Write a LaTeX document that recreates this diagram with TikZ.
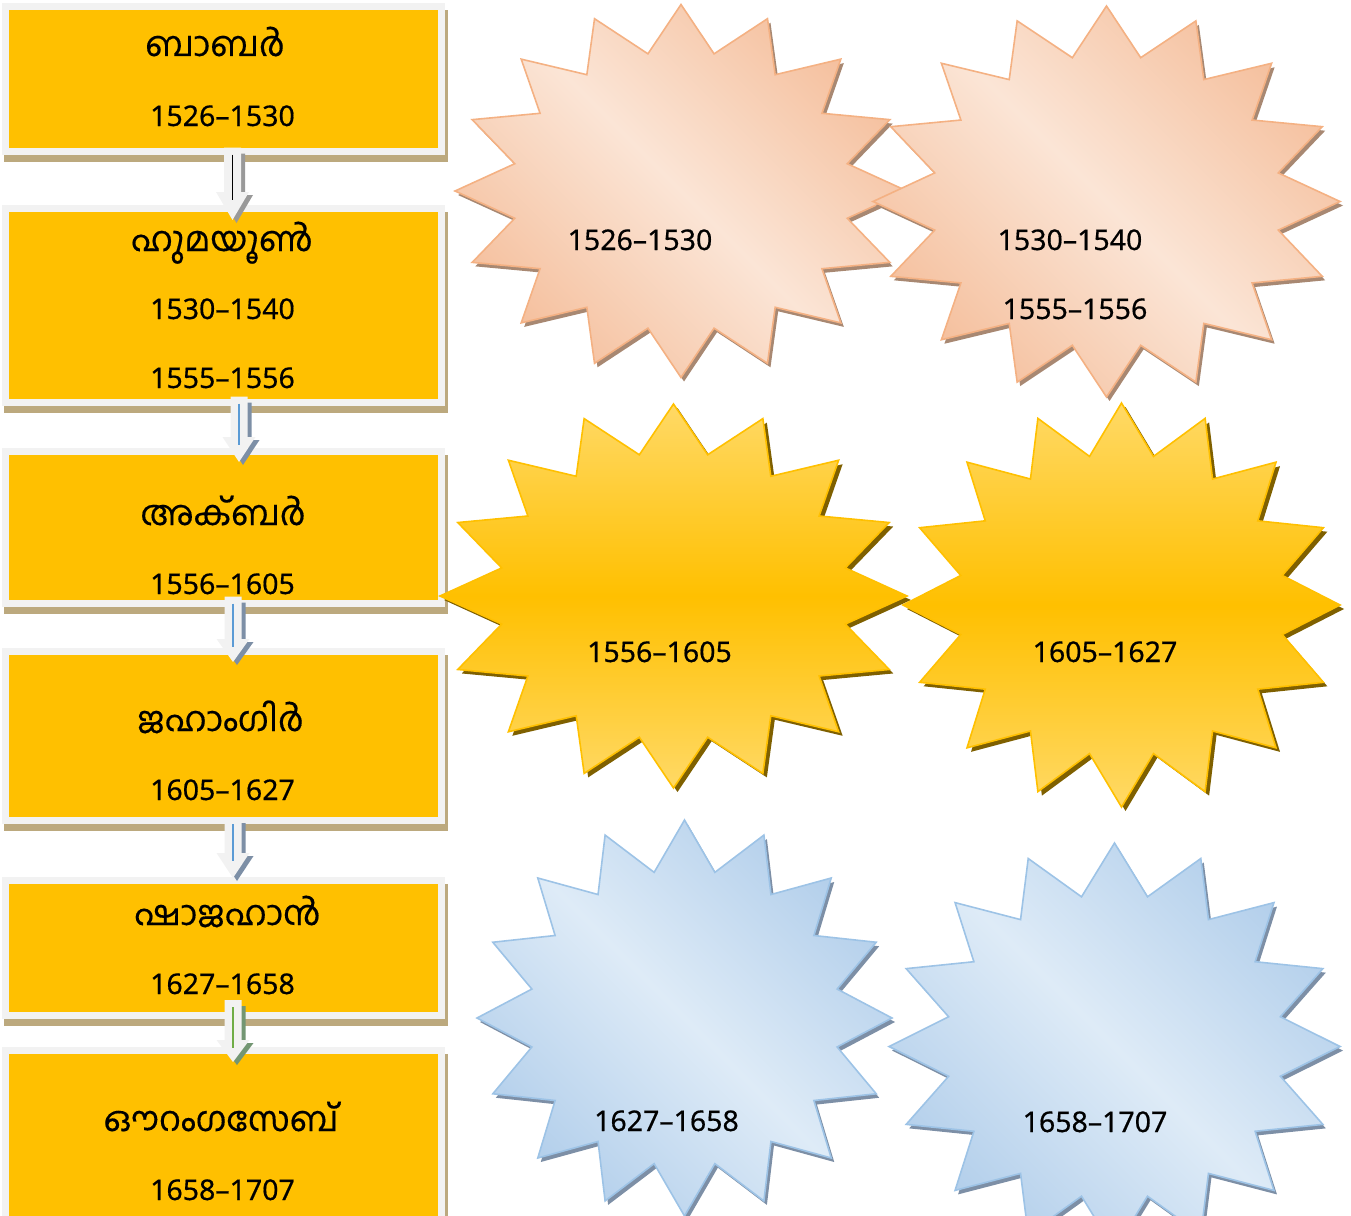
\documentclass[tikz,border=0pt]{standalone}
\usepackage{fontspec}
\newfontfamily\mlfont[Script=Malayalam, FakeBold=0.35]{Hind Kochi}
\newfontfamily\numfont[FakeBold=0.5]{Noto Sans}
\usetikzlibrary{calc}
\pgfdeclarelayer{bg}
\pgfsetlayers{bg,main}
\definecolor{boxfill}{HTML}{FFC000}
\definecolor{boxframe}{HTML}{F2F2F2}
\definecolor{boxshadow}{HTML}{BCA97E}
\definecolor{peachL}{HTML}{FBE5D6}
\definecolor{peachD}{HTML}{F5C09E}
\definecolor{peachE}{HTML}{F4B183}
\definecolor{peachS}{HTML}{A88872}
\definecolor{goldL}{HTML}{FFD966}
\definecolor{goldM}{HTML}{FFC000}
\definecolor{goldS}{HTML}{7F6000}
\definecolor{blueL}{HTML}{DEEBF7}
\definecolor{blueD}{HTML}{B3CFEB}
\definecolor{blueE}{HTML}{9DC3E6}
\definecolor{blueS}{HTML}{7D8FA6}
\definecolor{arrfill}{HTML}{F2F2F2}
\definecolor{lineblue}{HTML}{5B9BD5}
\definecolor{linegreen}{HTML}{70AD47}
\tikzset{
  kbox/.style={rectangle, fill=boxfill, draw=boxframe, line width=7pt, minimum width=436pt, outer sep=0pt, inner sep=0pt},
  ktext/.style={font=\mlfont\fontsize{34.5}{40}\selectfont, anchor=base, inner sep=0pt},
  knum/.style={font=\numfont\fontsize{28.5}{34}\selectfont, anchor=base, inner sep=0pt},
  peachstar/.style={top color=peachD, bottom color=peachD, middle color=peachL, shading angle=-45, draw=peachE, line width=1.6pt},
  goldstar/.style={top color=goldL, bottom color=goldL, middle color=goldM, draw=goldM, line width=1.6pt},
  bluestar/.style={top color=blueD, bottom color=blueD, middle color=blueL, shading angle=-45, draw=blueE, line width=1.6pt},
}
% 16-point star: cx, cy, rx, ry, options
\newcommand\mkstar[5]{%
  \path[#5] plot[samples at={0,...,31}, variable=\k]
    ({#1+#3*(0.875+0.125*cos(180*\k))*cos(90-11.25*\k)},
     {#2-#4*(0.875+0.125*cos(180*\k))*sin(90-11.25*\k)}) -- cycle;}
% block arrow: start coord, tip coord, head length, line colour, shadow colour
\newcommand\blockarrow[5]{%
  \path[fill=#5] let \p1=(#1), \p2=(#2) in
    (\x1-4.5pt,\y1-6pt) -- (\x1+12.5pt,\y1-6pt) -- (\x1+12.5pt,\y2+#3-3pt) -- (\x1+20.5pt,\y2+#3-3pt)
    -- (\x1+4pt,\y2-3pt) -- (\x1-12.5pt,\y2+#3-3pt) -- (\x1-4.5pt,\y2+#3-3pt) -- cycle;
  \path[fill=arrfill] let \p1=(#1), \p2=(#2) in
    (\x1-8.5pt,\y1) -- (\x1+8.5pt,\y1) -- (\x1+8.5pt,\y2+#3) -- (\x1+16.5pt,\y2+#3)
    -- (\x1,\y2) -- (\x1-16.5pt,\y2+#3) -- (\x1-8.5pt,\y2+#3) -- cycle;
  \draw[#4, line width=1.3pt] let \p1=(#1), \p2=(#2) in
    (\x1,\y1-7pt) -- (\x1,\y2+#3-8pt);}
\begin{document}
\begin{tikzpicture}[x=1pt,y=-1pt]
\useasboundingbox (0,0) rectangle (1351,1215);
% boxes
\node[kbox, minimum height=145pt] (b1) at (223.5,79) {};
\node[kbox, minimum height=194pt] (b2) at (223.5,305.5) {};
\node[kbox, minimum height=152pt] (b3) at (223.5,527.5) {};
\node[kbox, minimum height=169pt] (b4) at (223.5,736) {};
\node[kbox, minimum height=135pt] (b5) at (223.5,948) {};
\node[kbox, minimum height=171pt] (b6) at (223.5,1136) {};
\begin{pgfonlayer}{bg}
\foreach \b in {b1,b2,b3,b4,b5,b6}{
  \fill[boxshadow] ($(\b.north west)+(-1.5,3.5)$) rectangle ($(\b.south east)+(6.5,10.5)$);
}
\end{pgfonlayer}
% box texts
\node[ktext] (n1) at (215,56) {ബാബർ};
\node[knum] (y1) at (222.5,126) {1526–1530};
\node[ktext] (n2) at (222,251) {ഹുമയൂൺ};
\node[knum] (y2a) at (222.5,319) {1530–1540};
\node[knum] (y2b) at (222.5,388) {1555–1556};
\node[ktext] (n3) at (223,525) {അക്ബർ};
\node[knum] (y3) at (222.5,594) {1556–1605};
\node[ktext] (n4) at (220.5,731) {ജഹാംഗിർ};
\node[knum] (y4) at (222.5,800) {1605–1627};
\node[ktext] (n5) at (227.5,925) {ഷാജഹാൻ};
\node[knum] (y5) at (222.5,994) {1627–1658};
\node[ktext] (n6) at (221,1131) {ഔറംഗസേബ്};
\node[knum] (y6) at (222.5,1200) {1658–1707};
% arrows
\coordinate (a1s) at ($(b1.south)+(9,-4)$);
\coordinate (a1e) at ($(b2.north)+(9.5,11.5)$);
\coordinate (a2s) at ($(b2.south)+(15.5,-6)$);
\coordinate (a2e) at ($(b3.north)+(16.5,10.5)$);
\coordinate (a3s) at ($(b3.south)+(9.5,-7)$);
\coordinate (a3e) at ($(b4.north)+(10.5,10.5)$);
\coordinate (a4s) at ($(b4.south)+(9.5,-3.5)$);
\coordinate (a4e) at ($(b5.north)+(10.5,-2.5)$);
\coordinate (a5s) at ($(b5.south)+(9.5,-15.5)$);
\coordinate (a5e) at ($(b6.north)+(10.5,11.5)$);
\blockarrow{a1s}{a1e}{28pt}{black}{black!40}
\blockarrow{a2s}{a2e}{25pt}{lineblue}{blueS}
\blockarrow{a3s}{a3e}{23pt}{lineblue}{blueS}
\blockarrow{a4s}{a4e}{25pt}{lineblue}{blueS}
\blockarrow{a5s}{a5e}{22pt}{linegreen}{green!25!black!55}
% stars
\mkstar{684}{195}{226}{186.5}{fill=peachS}
\mkstar{681}{191}{226}{186.5}{peachstar}
\mkstar{1109.5}{205.5}{233.5}{195.5}{fill=peachS}
\mkstar{1106.5}{201.5}{233.5}{195.5}{peachstar}
\mkstar{677.5}{600}{233.5}{192}{fill=goldS}
\mkstar{673.5}{596}{233.5}{192}{goldstar}
\mkstar{1125.5}{609}{218.5}{202}{fill=goldS}
\mkstar{1121.5}{605}{218.5}{202}{goldstar}
\mkstar{687.5}{1022}{207.5}{198}{fill=blueS}
\mkstar{684.5}{1018}{207.5}{198}{bluestar}
\mkstar{1117.5}{1050.5}{225.5}{203.5}{fill=blueS}
\mkstar{1114.5}{1046.5}{225.5}{203.5}{bluestar}
% star texts
\node[knum] (s1) at (640,250) {1526–1530};
\node[knum] (s2a) at (1070,250) {1530–1540};
\node[knum] (s2b) at (1075,319) {1555–1556};
\node[knum] (s3) at (659.5,662) {1556–1605};
\node[knum] (s4) at (1105,662) {1605–1627};
\node[knum] (s5) at (666.5,1131) {1627–1658};
\node[knum] (s6) at (1095,1132) {1658–1707};
\end{tikzpicture}
\end{document}
